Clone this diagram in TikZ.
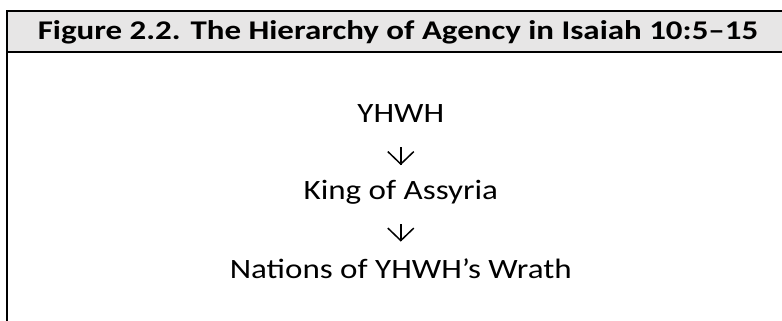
\documentclass[tikz,border=0pt]{standalone}
\usepackage{fontspec}
\setmainfont{Carlito}[FakeStretch=1.22]
\newfontfamily\bodyfont{Carlito}[FakeStretch=1.18]
\usetikzlibrary{arrows.meta}
\definecolor{hdrgrey}{HTML}{E7E6E6}
\tikzset{
  frame/.style={line width=1.8pt, line cap=rect},
  titletext/.style={font=\fontsize{27}{32}\selectfont\bfseries, inner sep=0pt, anchor=base},
  bodytext/.style={font=\bodyfont\fontsize{28}{33}\selectfont, inner sep=0pt, text height=18pt, text depth=0pt, anchor=south},
  arrowstem/.style={line width=1.5pt},
  downarrow/.style={line width=1.5pt, -{Straight Barb[length=12.5pt,width=26pt]}}
}
\begin{document}
\begin{tikzpicture}[x=1pt,y=-1pt]
\useasboundingbox (0,0) rectangle (782,321);
\fill[hdrgrey] (6.9,11) rectangle (800,52);
\draw[frame] (800,11) -- (6.9,11) -- (6.9,340);
\draw[frame] (6.9,52) -- (800,52);
\node[titletext] (title) at (398,39.3) {Figure 2.2. The Hierarchy of Agency in Isaiah 10:5–15};
\node[bodytext] (yhwh) at (400.8,122.5) {YHWH};
\node[bodytext] (king) at (400.8,199.5) {King of Assyria};
\node[bodytext] (nations) at (400.8,279) {Nations of YHWH’s Wrath};
\draw[downarrow, shorten <=24.5pt, shorten >=16pt] (yhwh.south) -- (king.north);
\draw[arrowstem, shorten <=24.5pt, shorten >=16.5pt] (yhwh.south) -- (king.north);
\draw[downarrow, shorten <=24.5pt, shorten >=19pt] (king.south) -- (nations.north);
\draw[arrowstem, shorten <=24.5pt, shorten >=19.5pt] (king.south) -- (nations.north);
\end{tikzpicture}
\end{document}
